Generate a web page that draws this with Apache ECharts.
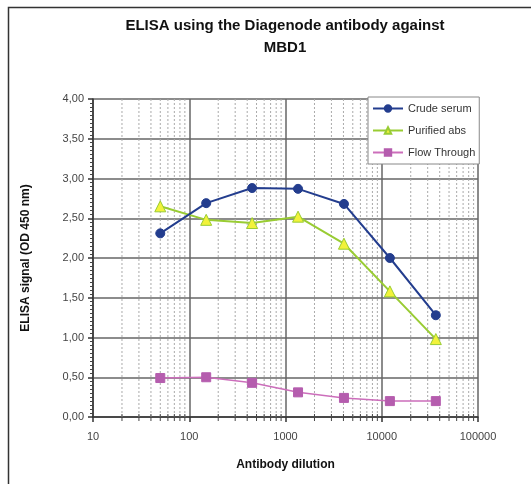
<!DOCTYPE html>
<html>
<head>
<meta charset="utf-8">
<script src="https://cdn.jsdelivr.net/npm/echarts@6/dist/echarts.min.js"></script>
<style>html,body{margin:0;padding:0;background:#fff;}#c{width:531px;height:484px;}</style>
</head>
<body>
<div id="c"></div>
<script>
var dilutions = [50, 150, 450, 1350, 4050, 12150, 36450];
var crudeSerum = [2.31, 2.69, 2.88, 2.87, 2.68, 2.00, 1.28];
var purifiedAbs = [2.65, 2.48, 2.44, 2.52, 2.18, 1.58, 0.98];
var flowThrough = [0.49, 0.50, 0.43, 0.31, 0.24, 0.20, 0.20];
var seriesNames = ['Crude serum', 'Purified abs', 'Flow Through'];
var minorX = [20,30,40,50,60,70,80,90,200,300,400,500,600,700,800,900,2000,3000,4000,5000,6000,7000,8000,9000,20000,30000,40000,50000,60000,70000,80000,90000];

function pairs(xs, ys) { return xs.map(function (x, i) { return [x, ys[i]]; }); }

var chart = echarts.init(document.getElementById('c'), null, {renderer: 'canvas'});
var font = 'Liberation Sans, Arial, sans-serif';
chart.setOption({
  animation: false,
  backgroundColor: '#fff',
  graphic: [{
    type: 'rect', shape: {x: 8.5, y: 7.5, width: 700, height: 700},
    style: {fill: null, stroke: '#333', lineWidth: 1.5}, silent: true, z: -10
  }],
  title: [{
    text: 'ELISA using the Diagenode antibody against', left: 285, top: 18, textAlign: 'center', padding: 0,
    textStyle: {fontFamily: font, fontSize: 15, fontWeight: 'bold', color: '#111'}
  }, {
    text: 'MBD1', left: 285, top: 40, textAlign: 'center', padding: 0,
    textStyle: {fontFamily: font, fontSize: 15, fontWeight: 'bold', color: '#111'}
  }],
  legend: {
    orient: 'vertical', left: 368, top: 97, data: seriesNames,
    itemWidth: 30, itemHeight: 8, itemGap: 9,
    padding: [5, 4, 5, 4],
    backgroundColor: '#fff', borderColor: '#888', borderWidth: 1, borderRadius: 0,
    textStyle: {fontFamily: font, fontSize: 11, color: '#333', lineHeight: 13}
  },
  grid: {left: 93, right: 53, top: 99, bottom: 67, containLabel: false},
  xAxis: {
    type: 'log', logBase: 10, min: 10, max: 100000,
    name: 'Antibody dilution', nameLocation: 'middle', nameGap: 42,
    nameTextStyle: {fontFamily: font, fontSize: 12, fontWeight: 'bold', color: '#111'},
    axisLine: {show: true, onZero: false, lineStyle: {color: '#333', width: 1.5}},
    axisTick: {show: true, length: 5, lineStyle: {color: '#333', width: 1.5}},
    axisLabel: {fontFamily: font, fontSize: 11, color: '#444', margin: 14,
      formatter: function (v) { return String(Math.round(v)); }},
    splitLine: {show: true, lineStyle: {color: '#666', width: 1.5}},
    minorTick: {show: false}, minorSplitLine: {show: false}
  },
  yAxis: {
    type: 'value', min: 0, max: 4, interval: 0.5,
    name: 'ELISA signal (OD 450 nm)', nameLocation: 'middle', nameGap: 61,
    nameTextStyle: {fontFamily: font, fontSize: 12, fontWeight: 'bold', color: '#111'},
    axisLine: {show: true, lineStyle: {color: '#333', width: 1.5}},
    axisTick: {show: true, length: 5, lineStyle: {color: '#333', width: 1.5}},
    minorTick: {show: true, splitNumber: 10, length: 3, lineStyle: {color: '#444', width: 1}},
    axisLabel: {fontFamily: font, fontSize: 11, color: '#444', margin: 9,
      formatter: function (v) { return v.toFixed(2).replace('.', ','); }},
    splitLine: {show: true, lineStyle: {color: '#666', width: 1.5}}
  },
  series: [{
    type: 'custom', name: 'minorGrid', z: 1, silent: true,
    data: minorX.map(function (v) { return [v, 0]; }),
    renderItem: function (params, api) {
      var b = api.coord([api.value(0), 0]);
      var t = api.coord([api.value(0), 4]);
      return {type: 'group', children: [{
        type: 'line', shape: {x1: b[0], y1: b[1], x2: t[0], y2: t[1]},
        style: {stroke: '#aaa', lineWidth: 1, lineDash: [2, 2]}
      }, {
        type: 'line', shape: {x1: b[0], y1: b[1] - 3, x2: b[0], y2: b[1] + 4},
        style: {stroke: '#444', lineWidth: 1}
      }]};
    }
  }, {
    name: 'Crude serum', type: 'line', z: 5, data: pairs(dilutions, crudeSerum),
    symbol: 'circle', symbolSize: 9,
    lineStyle: {color: '#233D8E', width: 2},
    itemStyle: {color: '#233D8E', borderColor: '#233D8E', borderWidth: 1}
  }, {
    name: 'Purified abs', type: 'line', z: 4, data: pairs(dilutions, purifiedAbs),
    symbol: 'triangle', symbolSize: 11,
    lineStyle: {color: '#99CC33', width: 2},
    itemStyle: {color: '#F2F23A', borderColor: '#99CC33', borderWidth: 1}
  }, {
    name: 'Flow Through', type: 'line', z: 3, data: pairs(dilutions, flowThrough),
    symbol: 'rect', symbolSize: 9,
    lineStyle: {color: '#CC6EBB', width: 1.5},
    itemStyle: {color: '#B55DAE', borderColor: '#B55DAE', borderWidth: 1}
  }]
});
</script>
</body>
</html>
